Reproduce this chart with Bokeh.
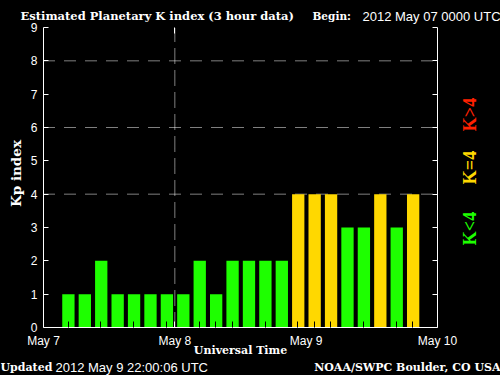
import math
from bokeh.plotting import figure
from bokeh.models import Range1d, LinearAxis, FixedTicker, Label, ColumnDataSource
from bokeh.embed import file_html
from bokeh.resources import INLINE

# ---- data (3-hour Kp values, 2012 May 07 00:00 UTC onward; None = no data) ----
slot_hours = 3
kp_values = [None, 1, 1, 2, 1, 1, 1, 1,
             1, 2, 1, 2, 2, 2, 2, 4,
             4, 4, 3, 3, 4, 3, 4, None]
day_labels = ["May 7", "May 8", "May 9", "May 10"]
day_hours = [0, 24, 48, 72]
marker_hours = [24]
y_ticks = [0, 1, 2, 3, 4, 5, 6, 7, 8, 9]
grid_levels = [4, 6, 8]
legend_texts = ["K<4", "K=4", "K>4"]
legend_colors = ["#1eff00", "#ffd800", "#ff2000"]

# ---- bars ----
xs, tops, cols = [], [], []
for i, k in enumerate(kp_values):
    if k is None:
        continue
    xs.append(i * slot_hours + 1.55)
    tops.append(k)
    cols.append(legend_colors[0] if k < 4 else (legend_colors[1] if k == 4 else legend_colors[2]))
src = ColumnDataSource(dict(x=xs, top=tops, color=cols))

# ---- layout: the frame is the whole canvas, plot box placed by the ranges ----
W, H = 500, 375
BOX_L, BOX_R, BOX_T, BOX_B = 43, 437, 27, 327
x0, x1 = day_hours[0], day_hours[-1]
y0, y1 = y_ticks[0], y_ticks[-1]
xpp = (x1 - x0) / (BOX_R - BOX_L)
ypp = (y1 - y0) / (BOX_B - BOX_T)
x_range = Range1d(x0 - BOX_L * xpp, x1 + (W - BOX_R) * xpp)
y_range = Range1d(y0 - (H - BOX_B) * ypp, y1 + BOX_T * ypp)

p = figure(width=W, height=H, output_backend="svg", toolbar_location=None,
           x_range=x_range, y_range=y_range, min_border=0,
           background_fill_color="black", border_fill_color="black", outline_line_color=None,
           x_axis_location=None, y_axis_location=None)
p.title.visible = False
p.xgrid.visible = False
p.ygrid.visible = False

# dotted reference lines
p.segment(x0=[x0] * len(grid_levels), x1=[x1] * len(grid_levels), y0=grid_levels, y1=grid_levels,
          line_color="white", line_width=1, line_dash="1 1 1 1 1 1 1 1 1 1 1 10")
p.segment(x0=marker_hours, x1=marker_hours, y0=[y0] * len(marker_hours), y1=[y1] * len(marker_hours),
          line_color="white", line_width=1, line_dash="1 1 1 1 1 1 1 1 1 1 1 1 1 1 1 7")

p.vbar(x="x", top="top", bottom=0, width=2.25, color="color", source=src, line_color=None)

tick_font = "Liberation Sans"


def style_axis(ax, tick_in=5):
    ax.axis_line_color = "white"
    ax.major_tick_line_color = "white"
    ax.major_tick_in = tick_in
    ax.major_tick_out = 0
    ax.minor_tick_line_color = None
    ax.major_label_text_color = "white"
    ax.major_label_text_font = tick_font
    ax.major_label_text_font_size = "12px"


ya = LinearAxis(ticker=FixedTicker(ticks=y_ticks), fixed_location=x0, bounds=(y0, y1))
style_axis(ya)
ya.major_label_standoff = 6
p.add_layout(ya, "left")

ra = LinearAxis(ticker=FixedTicker(ticks=y_ticks), fixed_location=x1, bounds=(y0, y1))
style_axis(ra)
ra.major_label_text_font_size = "0px"
ra.major_label_text_color = None
p.add_layout(ra, "right")

minor_hours = [4.5, 10.5, 16.5, 22.5, 28.5, 31.5, 34.5, 40.5, 46.5, 49.5, 52.5, 58.5, 64.5, 67.5]
xa = LinearAxis(ticker=FixedTicker(ticks=day_hours, minor_ticks=minor_hours), fixed_location=y0,
                bounds=(x0, x1))
style_axis(xa, tick_in=0)
xa.minor_tick_line_color = "black"
xa.minor_tick_in = 6
xa.minor_tick_out = 0
xa.major_label_overrides = {h: lab for h, lab in zip(day_hours, day_labels)}
xa.major_label_standoff = 6
p.add_layout(xa, "below")

# short solid ticks at the day marker, bottom and top
for loc, side in ((y0, "below"), (y1, "above")):
    mk = LinearAxis(ticker=FixedTicker(ticks=marker_hours), fixed_location=loc, bounds=(x0, x1))
    style_axis(mk, tick_in=6)
    mk.axis_line_color = None
    mk.major_label_text_font_size = "0px"
    mk.major_label_text_color = None
    p.add_layout(mk, side)


def add_text(text, px, py, size, font="DejaVu Serif", bold=False, color="white",
             align="left", angle=0.0):
    p.add_layout(Label(x=px, y=H - py, x_units="screen", y_units="screen",
                       text=text, text_font=font, text_font_size=f"{size}px",
                       text_font_style="bold" if bold else "normal",
                       text_color=color, text_align=align, text_baseline="middle",
                       angle=angle))


add_text("Estimated Planetary K index (3 hour data)", 20, 15, 11.5, bold=True)
add_text("Begin:", 312, 15, 10.5, bold=True)
add_text("2012 May 07 0000 UTC", 362, 16, 13, font="Liberation Sans")
add_text("Kp index", 15, 173, 13.5, bold=True, align="center", angle=math.pi / 2)
for t, c, yy in zip(legend_texts, legend_colors, [228, 167, 114]):
    add_text(t, 469, yy, 18, font="Liberation Serif", bold=True, color=c,
             align="center", angle=math.pi / 2)
add_text("Universal Time", 240, 350, 11, bold=True, align="center")
add_text("Updated", 0, 367, 11, bold=True)
add_text("2012 May  9 22:00:06 UTC", 55, 367, 13, font="Liberation Sans")
add_text("NOAA/SWPC Boulder, CO USA", 500, 367, 11, bold=True, align="right")

html = file_html(p, INLINE)
html = html.replace("<body>", '<body style="background:#000">')
open("out.html", "w").write(html)
